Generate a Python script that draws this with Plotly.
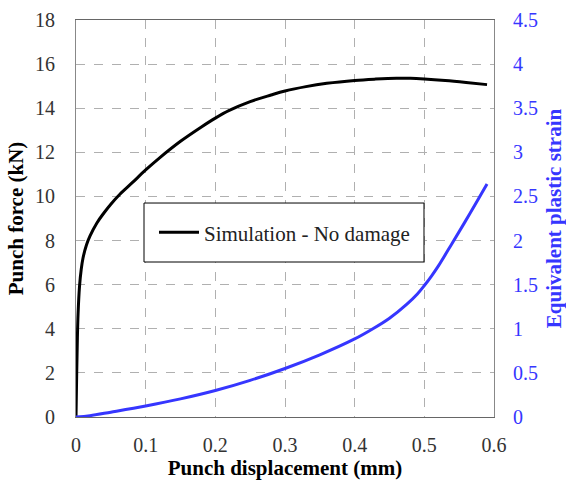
import plotly.graph_objects as go

# Punch force curve (kN) vs displacement (mm)
disp_force = [0, 0.001, 0.002, 0.003, 0.005, 0.0075, 0.01, 0.015, 0.02, 0.03, 0.04, 0.05, 0.063,
              0.08, 0.1, 0.12, 0.15, 0.18, 0.2, 0.22, 0.25, 0.28, 0.3, 0.33, 0.36, 0.4, 0.43,
              0.46, 0.48, 0.5, 0.53, 0.56, 0.59]
force = [0, 2.0, 3.6, 4.7, 5.9, 6.7, 7.2, 7.8, 8.2, 8.8, 9.25, 9.65, 10.1,
         10.6, 11.2, 11.75, 12.5, 13.15, 13.55, 13.9, 14.3, 14.6, 14.78, 14.98, 15.13, 15.26, 15.32,
         15.36, 15.36, 15.33, 15.26, 15.17, 15.07]

# Equivalent plastic strain vs displacement (mm)
disp_strain = [0, 0.02, 0.05, 0.1, 0.15, 0.2, 0.25, 0.3, 0.35, 0.4, 0.425, 0.45, 0.475, 0.49,
               0.5, 0.51, 0.52, 0.54, 0.565, 0.59]
strain = [0, 0.015, 0.055, 0.125, 0.205, 0.30, 0.415, 0.55, 0.705, 0.885, 0.995, 1.12, 1.28, 1.395,
          1.49, 1.595, 1.71, 1.97, 2.30, 2.64]

x_ticks = [0, 0.1, 0.2, 0.3, 0.4, 0.5, 0.6]
y_ticks = [0, 2, 4, 6, 8, 10, 12, 14, 16, 18]
y2_ticks = [0, 0.5, 1, 1.5, 2, 2.5, 3, 3.5, 4, 4.5]

BLUE = "#3636FF"
FONT = "Liberation Serif, Times New Roman, serif"

fig = go.Figure()
fig.add_trace(go.Scatter(x=disp_force, y=force, mode="lines", name="Simulation - No damage",
                         line=dict(color="black", width=3, shape="spline", smoothing=1.0)))
fig.add_trace(go.Scatter(x=disp_strain, y=strain, mode="lines", yaxis="y2", showlegend=False,
                         line=dict(color=BLUE, width=3, shape="spline", smoothing=1.0)))

# legend frame (the reference legend box is roomier than plotly's default)
fig.add_shape(type="rect", xref="paper", yref="paper", x0=0.1627, x1=0.8325, y0=0.3904, y1=0.539,
              line=dict(color="black", width=1), fillcolor="white", layer="above")

grid = dict(showgrid=True, gridcolor="#b0b0b0", griddash="dash", gridwidth=1)
fig.update_layout(
    width=566, height=484,
    margin=dict(l=76, r=72, t=20, b=67),
    paper_bgcolor="white", plot_bgcolor="white",
    font=dict(family=FONT, size=20, color="#333"),
    xaxis=dict(range=[0, 0.6], tickvals=x_ticks, ticktext=[str(v) for v in x_ticks],
               showline=True, linecolor="#666", linewidth=1, mirror=True, automargin=False,
               ticks="", ticklabelstandoff=10, zeroline=False,
               title=dict(text="<b>Punch displacement (mm)</b>", standoff=5,
                          font=dict(size=21, color="black")),
               **grid),
    yaxis=dict(range=[0, 18], tickvals=y_ticks, showline=True, linecolor="#888", linewidth=1,
               ticks="", ticklabelstandoff=16, zeroline=False, automargin=False,
               title=dict(text="<b>Punch force (kN)</b>", standoff=5,
                          font=dict(size=21, color="black")),
               **grid),
    yaxis2=dict(range=[0, 4.5], tickvals=y2_ticks, ticktext=[f"{v:g}" for v in y2_ticks],
                overlaying="y", side="right", showgrid=False, zeroline=False, automargin=False,
                showline=True, linecolor="#888", linewidth=1, ticks="", ticklabelstandoff=14,
                tickfont=dict(color=BLUE, size=20),
                title=dict(text="<b>Equivalent plastic strain</b>", standoff=14,
                           font=dict(size=21, color=BLUE))),
    legend=dict(x=0.1866, y=0.516, xanchor="left", yanchor="top",
                borderwidth=0, bgcolor="rgba(0,0,0,0)",
                font=dict(size=21, color="#222"), itemwidth=40),
    showlegend=True,
)

fig.write_html("out.html")
